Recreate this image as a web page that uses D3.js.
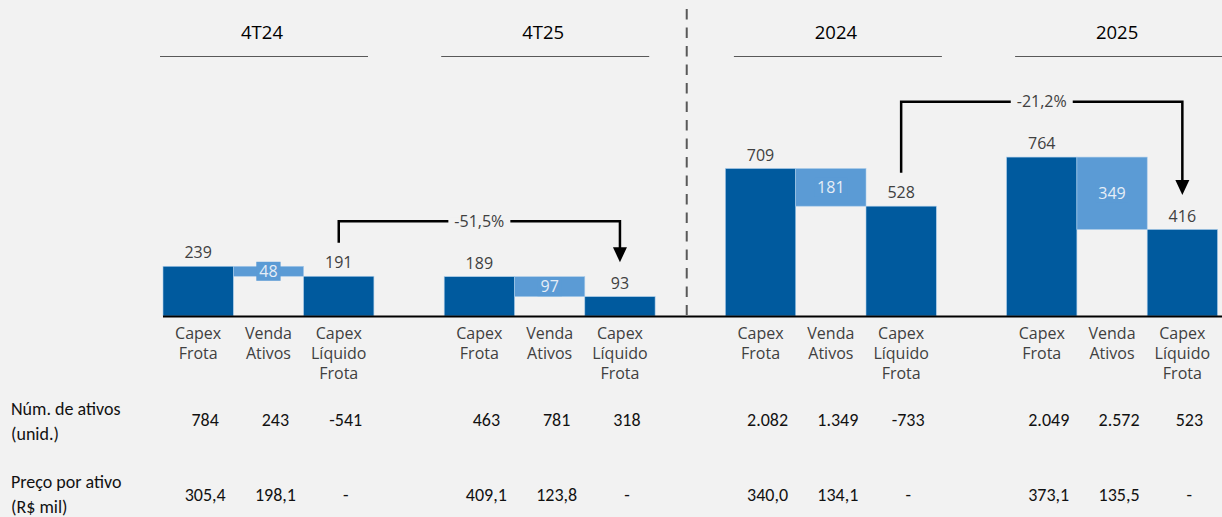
<!DOCTYPE html>
<html>
<head>
<meta charset="utf-8">
<script src="https://cdn.jsdelivr.net/npm/d3@7"></script>
<style>
  html, body { margin: 0; padding: 0; background: #F2F2F2; }
  svg { display: block; }
</style>
</head>
<body>
<svg id="chart" width="1222" height="517"></svg>
<script>
// ---------- DATA ----------
const groups = ["4T24", "4T25", "2024", "2025"];
const categories = [["Capex", "Frota"], ["Venda", "Ativos"], ["Capex", "Líquido", "Frota"]];
const capexFrota = [239, 189, 709, 764];
const vendaAtivos = [48, 97, 181, 349];
const capexLiquido = [191, 93, 528, 416];
const variationLabels = ["-51,5%", "-21,2%"];
const variationPairs = [[0, 1], [2, 3]];
const variationLevels = [455, 1030];
const rowLabels = [["Núm. de ativos", "(unid.)"], ["Preço por ativo", "(R$ mil)"]];
const numAtivos = ["784", "243", "-541", "463", "781", "318", "2.082", "1.349", "-733", "2.049", "2.572", "523"];
const precoAtivo = ["305,4", "198,1", "-", "409,1", "123,8", "-", "340,0", "134,1", "-", "373,1", "135,5", "-"];

// ---------- LAYOUT ----------
const W = 1222, H = 517;
const BG = "#F2F2F2";
const DARK = "#005A9E";
const LIGHT = "#5B9BD5";
const uiFont = "'Segoe UI', 'Open Sans', 'Noto Sans', sans-serif";
const tblFont = "Calibri, Carlito, Lato, sans-serif";

const svg = d3.select("#chart");
svg.append("rect").attr("width", W).attr("height", H).attr("fill", BG);

const slots = d3.range(15);
const x = d3.scaleBand().domain(slots).range([163, 1217.5]).padding(0);
const bw = x.bandwidth();
const y = d3.scaleLinear().domain([0, 1000]).range([316, 108]);
const slotOf = (g, c) => g * 4 + c;

// waterfall items
const items = [];
groups.forEach((g, i) => {
  items.push({ g: i, c: 0, y0: 0, y1: capexFrota[i], v: capexFrota[i], type: "total" });
  items.push({ g: i, c: 1, y0: capexLiquido[i], y1: capexFrota[i], v: vendaAtivos[i], type: "delta" });
  items.push({ g: i, c: 2, y0: 0, y1: capexLiquido[i], v: capexLiquido[i], type: "total" });
});

// bars
svg.append("g").selectAll("rect").data(items).join("rect")
  .attr("x", d => x(slotOf(d.g, d.c)))
  .attr("width", bw)
  .attr("y", d => y(d.y1))
  .attr("height", d => y(d.y0) - y(d.y1))
  .attr("fill", d => d.type === "total" ? DARK : LIGHT)
  .attr("stroke", "#A9CBEA")
  .attr("stroke-width", 0.6);

// baseline
svg.append("line")
  .attr("x1", x(0)).attr("x2", W)
  .attr("y1", y(0) + 0.5).attr("y2", y(0) + 0.5)
  .attr("stroke", "#000").attr("stroke-width", 2);

// total labels above bars
svg.append("g").selectAll("text").data(items.filter(d => d.type === "total")).join("text")
  .attr("x", d => x(slotOf(d.g, d.c)) + bw / 2)
  .attr("y", d => y(d.y1) - 13.4)
  .attr("dy", "0.35em")
  .attr("text-anchor", "middle")
  .attr("font-family", uiFont).attr("font-size", 16)
  .attr("fill", "#404040")
  .text(d => d.v);

// delta labels inside light bars (with background box)
const deltaG = svg.append("g");
items.filter(d => d.type === "delta").forEach(d => {
  const cx = x(slotOf(d.g, d.c)) + bw / 2;
  const cy = (y(d.y0) + y(d.y1)) / 2;
  const gg = deltaG.append("g");
  const r = gg.append("rect");
  const t = gg.append("text")
    .attr("x", cx).attr("y", cy).attr("dy", "0.35em")
    .attr("text-anchor", "middle")
    .attr("font-family", uiFont).attr("font-size", 16)
    .attr("fill", "#E6EEF7")
    .text(d.v);
  const bb = t.node().getBBox();
  r.attr("x", cx - bb.width / 2 - 3).attr("width", bb.width + 6)
    .attr("y", cy - 9.5).attr("height", 19)
    .attr("fill", LIGHT);
});

// category labels
const catG = svg.append("g");
groups.forEach((g, gi) => {
  categories.forEach((lines, ci) => {
    const t = catG.append("text")
      .attr("x", x(slotOf(gi, ci)) + bw / 2)
      .attr("y", 339)
      .attr("text-anchor", "middle")
      .attr("font-family", uiFont).attr("font-size", 16)
      .attr("fill", "#404040");
    lines.forEach((l, li) => {
      t.append("tspan").attr("x", x(slotOf(gi, ci)) + bw / 2).attr("dy", li === 0 ? 0 : 20).text(l);
    });
  });
});

// headers
const hdr = svg.append("g");
groups.forEach((g, gi) => {
  const shift = gi < 2 ? -3 : 8.5;
  const x0 = x(slotOf(gi, 0)) + shift;
  const x1 = x0 + 208;
  const cx = (x0 + x1) / 2;
  hdr.append("text")
    .attr("x", cx - 2).attr("y", 33).attr("dy", "0.35em")
    .attr("text-anchor", "middle")
    .attr("font-family", uiFont).attr("font-size", 18.5)
    .attr("fill", "#000")
    .text(g);
  hdr.append("line")
    .attr("x1", x0).attr("x2", x1)
    .attr("y1", 56.5).attr("y2", 56.5)
    .attr("stroke", "#595959").attr("stroke-width", 1.2);
});

// dashed separator
const sepX = x(7) + bw * 0.45;
svg.append("line")
  .attr("x1", sepX).attr("x2", sepX)
  .attr("y1", 9).attr("y2", y(0) - 1)
  .attr("stroke", "#595959").attr("stroke-width", 2)
  .attr("stroke-dasharray", "10.5,8");

// variation arrows
const arrG = svg.append("g");
variationPairs.forEach((p, i) => {
  const xa = x(slotOf(p[0], 2)) + bw / 2;
  const xb = x(slotOf(p[1], 2)) + bw / 2;
  const ya = y(capexLiquido[p[0]]) - 13.4 - 20;
  const yb = y(capexLiquido[p[1]]) - 13.4 - 21;
  const yh = y(variationLevels[i]);
  const gg = arrG.append("g");
  gg.append("path")
    .attr("d", `M${xa},${ya} V${yh} H${xb} V${yb - 14}`)
    .attr("fill", "none").attr("stroke", "#000").attr("stroke-width", 2.5)
    .attr("stroke-linejoin", "miter");
  gg.append("path")
    .attr("d", `M${xb - 7},${yb - 15} L${xb + 7},${yb - 15} L${xb},${yb} Z`)
    .attr("fill", "#000");
  const mx = (xa + xb) / 2;
  const r = gg.append("rect");
  const t = gg.append("text")
    .attr("x", mx).attr("y", yh).attr("dy", "0.35em")
    .attr("text-anchor", "middle")
    .attr("font-family", uiFont).attr("font-size", 16)
    .attr("fill", "#404040")
    .text(variationLabels[i]);
  const bb = t.node().getBBox();
  r.attr("x", mx - bb.width / 2 - 6).attr("width", bb.width + 12)
    .attr("y", yh - 4).attr("height", 8)
    .attr("fill", BG);
});

// table
const tbl = svg.append("g");
const rows = [numAtivos, precoAtivo];
const rowLabelY = [408.3, 481.7];
const rowValY = [420, 495];
rows.forEach((vals, ri) => {
  const lt = tbl.append("text")
    .attr("x", 11).attr("y", rowLabelY[ri]).attr("dy", "0.35em")
    .attr("font-family", tblFont).attr("font-size", 18)
    .attr("fill", "#111");
  rowLabels[ri].forEach((l, li) => {
    lt.append("tspan").attr("x", 11).attr("dy", li === 0 ? "0.35em" : 25).text(l);
  });
  vals.forEach((v, k) => {
    const gi = Math.floor(k / 3), ci = k % 3;
    tbl.append("text")
      .attr("x", x(slotOf(gi, ci)) + bw / 2 + 7)
      .attr("y", rowValY[ri]).attr("dy", "0.35em")
      .attr("text-anchor", "middle")
      .attr("font-family", tblFont).attr("font-size", 18)
      .attr("fill", "#111")
      .text(v);
  });
});
</script>
</body>
</html>
